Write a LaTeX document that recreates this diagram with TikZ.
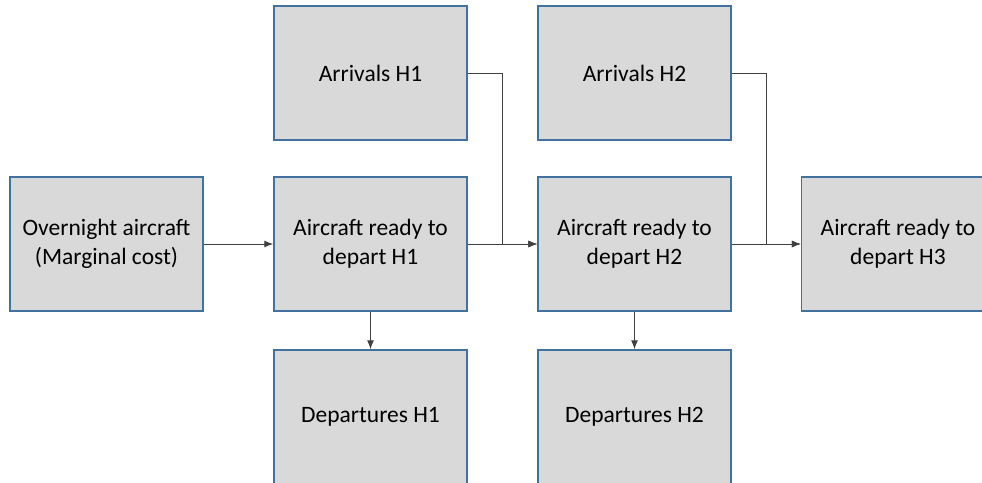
\documentclass[tikz,border=0pt]{standalone}
\usepackage{fontspec}
\setmainfont{Carlito}
\usetikzlibrary{arrows.meta}
\definecolor{boxfill}{HTML}{D9D9D9}
\definecolor{boxline}{HTML}{41719C}
\definecolor{conn}{HTML}{404040}
\begin{document}
\begin{tikzpicture}[x=1pt,y=-1pt,
  box/.style={draw=boxline,line width=1.5pt,fill=boxfill,minimum width=193pt,minimum height=134pt,
    inner sep=0pt,align=center,font=\fontsize{23.5pt}{29pt}\selectfont},
  conn/.style={draw=conn,line width=1pt},
  arr/.style={conn,-{Latex[length=9pt,width=7pt]}}]
\useasboundingbox (0,0) rectangle (982,482);
\node[box] (over) at (106.5,244) {Overnight aircraft\\(Marginal cost)};
\node[box] (r1) at (370.5,244) {Aircraft ready to\\depart H1};
\node[box] (a1) at (370.5,73) {Arrivals H1};
\node[box] (d1) at (370.5,417) {Departures H1};
\node[box] (a2) at (634.5,73) {Arrivals H2};
\node[box] (r2) at (634.5,244) {Aircraft ready to\\depart H2};
\node[box] (d2) at (634.5,417) {Departures H2};
\node[box] (r3) at (898,244) {Aircraft ready to\\depart H3};
\coordinate (j1) at (502,73);
\coordinate (j2) at (766,73);
\draw[arr] (over.east) -- (r1.west);
\draw[arr] (r1.east) -- (r2.west);
\draw[arr] (r2.east) -- (r3.west);
\draw[arr] (a1.east) -- (j1) |- (r2.west);
\draw[arr] (a2.east) -- (j2) |- (r3.west);
\draw[arr] (r1.south) -- (d1.north);
\draw[arr] (r2.south) -- (d2.north);
\end{tikzpicture}
\end{document}
